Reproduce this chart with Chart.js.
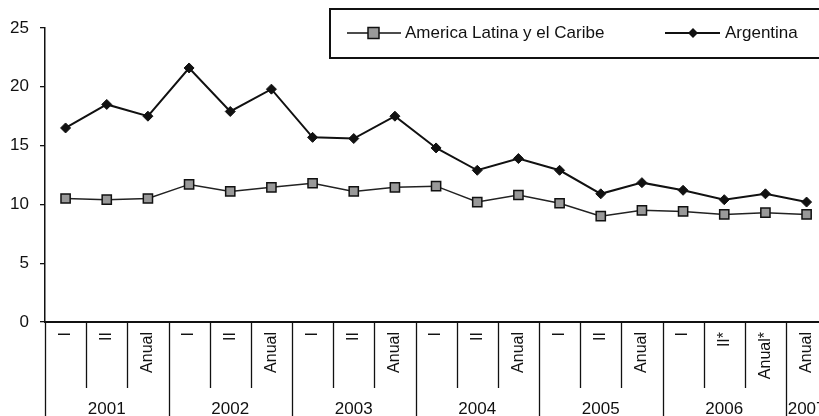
<!DOCTYPE html>
<html>
<head>
<meta charset="utf-8">
<script src="https://cdn.jsdelivr.net/npm/chart.js@4/dist/chart.umd.min.js"></script>
<style>
  html, body { margin: 0; padding: 0; background: #fff; overflow: hidden; }
  #wrap { width: 819px; height: 416px; overflow: hidden; }
</style>
</head>
<body>
<div id="wrap"><canvas id="chart" width="836" height="416"></canvas></div>
<script>
// periodos (eje x)
const periodos = ['I', 'II', 'Anual', 'I', 'II', 'Anual', 'I', 'II', 'Anual',
  'I', 'II', 'Anual', 'I', 'II', 'Anual', 'I', 'II*', 'Anual*', 'Anual'];
// años y cuantos periodos abarca cada uno
const anios = ['2001', '2002', '2003', '2004', '2005', '2006', '2007'];
const periodosPorAnio = [3, 3, 3, 3, 3, 3, 1];

const americaLatina = [10.5, 10.4, 10.5, 11.7, 11.1, 11.45, 11.8, 11.1, 11.45,
  11.55, 10.2, 10.8, 10.1, 9.0, 9.5, 9.4, 9.15, 9.3, 9.15];
const argentina = [16.5, 18.5, 17.5, 21.6, 17.9, 19.8, 15.7, 15.6, 17.5,
  14.8, 12.9, 13.9, 12.9, 10.9, 11.85, 11.2, 10.4, 10.9, 10.2];

const yTicks = [0, 5, 10, 15, 20, 25];

const FONT = 'Liberation Sans, Arial, sans-serif';

// lineas divisorias y años debajo del eje x
const divisores = {
  id: 'divisores',
  afterDraw(chart) {
    const ctx = chart.ctx;
    const xs = chart.scales.x;
    const bottom = chart.chartArea.bottom;
    ctx.save();
    ctx.strokeStyle = '#111';
    ctx.lineWidth = 1.3;
    // inicio de cada año
    const inicios = [];
    let acc = 0;
    periodosPorAnio.forEach(n => { inicios.push(acc); acc += n; });
    inicios.push(acc);
    for (let i = 0; i <= periodos.length; i++) {
      const x = Math.round(xs.getPixelForValue(i - 0.5)) + 0.5;
      const esAnio = inicios.includes(i);
      ctx.beginPath();
      ctx.moveTo(x, bottom);
      ctx.lineTo(x, esAnio ? 416 : bottom + 66);
      ctx.stroke();
    }
    // etiquetas de año
    ctx.fillStyle = '#111';
    ctx.font = '17px ' + FONT;
    ctx.textAlign = 'center';
    ctx.textBaseline = 'middle';
    anios.forEach((a, k) => {
      const x0 = xs.getPixelForValue(inicios[k] - 0.5);
      const x1 = xs.getPixelForValue(inicios[k + 1] - 0.5);
      ctx.fillText(a, (x0 + x1) / 2, 409);
    });
    ctx.restore();
  }
};

// leyenda con recuadro
const leyenda = {
  id: 'leyenda',
  afterDraw(chart) {
    const ctx = chart.ctx;
    ctx.save();
    ctx.strokeStyle = '#111';
    ctx.lineWidth = 2;
    ctx.strokeRect(330, 9, 520, 49);
    const y = 33;
    // America Latina y el Caribe
    ctx.lineWidth = 1.5;
    ctx.beginPath(); ctx.moveTo(347, y); ctx.lineTo(401, y); ctx.stroke();
    ctx.fillStyle = '#999';
    ctx.fillRect(368, y - 5.5, 11, 11);
    ctx.strokeRect(368, y - 5.5, 11, 11);
    // Argentina
    ctx.lineWidth = 2;
    ctx.beginPath(); ctx.moveTo(665, y); ctx.lineTo(720, y); ctx.stroke();
    ctx.fillStyle = '#111';
    ctx.beginPath();
    ctx.moveTo(693, y - 5); ctx.lineTo(698, y); ctx.lineTo(693, y + 5); ctx.lineTo(688, y);
    ctx.closePath(); ctx.fill();
    ctx.font = '17px ' + FONT;
    ctx.textBaseline = 'middle';
    ctx.textAlign = 'left';
    ctx.fillText(chart.data.datasets[0].label, 405, y);
    ctx.fillText(chart.data.datasets[1].label, 725, y);
    ctx.restore();
  }
};

const ctx = document.getElementById('chart').getContext('2d');
new Chart(ctx, {
  type: 'line',
  data: {
    labels: periodos,
    datasets: [{
      label: 'America Latina y el Caribe',
      data: americaLatina,
      borderColor: '#222',
      borderWidth: 1.5,
      backgroundColor: '#999',
      pointStyle: 'rect',
      pointRadius: 6.5,
      pointBorderColor: '#111',
      pointBorderWidth: 1.5,
      tension: 0
    }, {
      label: 'Argentina',
      data: argentina,
      borderColor: '#111',
      borderWidth: 2,
      backgroundColor: '#111',
      pointStyle: 'rectRot',
      pointRadius: 5,
      pointBorderColor: '#111',
      pointBorderWidth: 1,
      tension: 0
    }]
  },
  options: {
    responsive: false,
    animation: false,
    layout: { padding: { left: 0, top: 28, right: 0, bottom: 0 } },
    plugins: {
      legend: { display: false },
      tooltip: { enabled: false },
      title: { display: false }
    },
    scales: {
      x: {
        offset: true,
        grid: { display: true, drawOnChartArea: false, drawTicks: false },
        border: { display: true, color: '#111', width: 2 },
        ticks: {
          color: '#111',
          font: { family: FONT, size: 16 },
          minRotation: 90,
          maxRotation: 90,
          padding: 10,
          autoSkip: false
        },
        afterFit(scale) { scale.height = 94; }
      },
      y: {
        min: 0,
        max: 25,
        afterBuildTicks(scale) { scale.ticks = yTicks.map(v => ({ value: v })); },
        afterFit(scale) { scale.width = 45; },
        grid: { drawOnChartArea: false, drawTicks: true, tickLength: 5, color: '#111', lineWidth: 1.3 },
        border: { display: true, color: '#111', width: 1.5 },
        ticks: {
          color: '#111',
          font: { family: FONT, size: 17 },
          padding: 11
        }
      }
    }
  },
  plugins: [divisores, leyenda]
});
</script>
</body>
</html>
